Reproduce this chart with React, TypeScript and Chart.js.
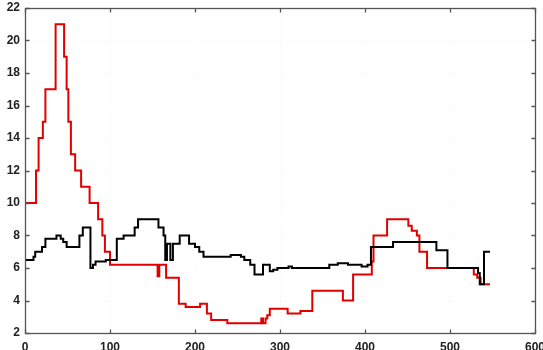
import React, { useEffect, useRef } from "react";
import { Chart, registerables } from "chart.js";

Chart.register(...registerables);

const xTicks = [0, 100, 200, 300, 400, 500, 600];
const yTicks = [2, 4, 6, 8, 10, 12, 14, 16, 18, 20, 22];

const redX = [0, 13, 16, 21, 24, 36, 46, 49, 51, 54, 59, 66, 76, 86, 91, 94, 100, 156, 158, 166, 181, 189, 206, 214, 219, 238, 278, 280, 283, 285, 288, 309, 324, 338, 374, 386, 408, 410, 426, 451, 455, 461, 464, 473, 528, 532, 536, 547];
const redY = [10, 12, 14, 15, 17, 21, 19, 17, 15, 13, 12, 11, 10, 9, 8, 7, 6.2, 5.5, 6.2, 5.4, 3.8, 3.6, 3.8, 3.2, 2.8, 2.6, 2.9, 2.6, 2.9, 3.1, 3.5, 3.2, 3.35, 4.6, 4.0, 5.6, 6.4, 8.0, 9.0, 8.6, 8.3, 8.0, 7.0, 6.0, 5.6, 5.4, 5.0, 5.0];

const blackX = [0, 10, 12, 20, 24, 37, 42, 45, 49, 64, 68, 77, 80, 83, 95, 108, 116, 129, 133, 157, 163, 165, 167, 170, 171, 174, 182, 193, 200, 205, 210, 242, 254, 258, 265, 270, 280, 288, 292, 297, 310, 314, 358, 368, 380, 396, 403, 407, 433, 484, 497, 533, 535, 540, 547];
const blackY = [6.5, 6.7, 7.0, 7.3, 7.8, 8.0, 7.8, 7.6, 7.3, 8.0, 8.5, 6.0, 6.2, 6.4, 6.5, 7.8, 8.0, 8.5, 9.0, 8.5, 8.0, 6.5, 7.5, 7.5, 6.5, 7.5, 8.0, 7.5, 7.3, 7.0, 6.7, 6.8, 6.7, 6.5, 6.2, 5.6, 6.2, 5.8, 5.9, 6.0, 6.1, 6.0, 6.2, 6.3, 6.2, 6.1, 6.2, 7.3, 7.6, 7.1, 6.0, 5.7, 5.0, 7.0, 7.0];

const toPts = (xs: number[], ys: number[]) => xs.map((x, i) => ({ x, y: ys[i] }));

const frame = {
  id: "frame",
  beforeDatasetsDraw(chart: any) {
    const { ctx, chartArea: a, scales } = chart;
    ctx.save();
    ctx.strokeStyle = "rgba(0,0,0,0.045)";
    ctx.lineWidth = 1;
    ctx.setLineDash([1, 3]);
    for (const v of xTicks) {
      const px = Math.round(scales.x.getPixelForValue(v)) + 0.5;
      ctx.beginPath(); ctx.moveTo(px, a.top); ctx.lineTo(px, a.bottom); ctx.stroke();
    }
    for (const v of yTicks) {
      const py = Math.round(scales.y.getPixelForValue(v)) + 0.5;
      ctx.beginPath(); ctx.moveTo(a.left, py); ctx.lineTo(a.right, py); ctx.stroke();
    }
    ctx.restore();
  },
  afterDatasetsDraw(chart: any) {
    const { ctx, chartArea: a, scales } = chart;
    ctx.save();
    ctx.strokeStyle = "#555";
    ctx.lineWidth = 1.3;
    const L = Math.round(a.left) + 0.5, R = Math.round(a.right) + 0.5;
    const T = Math.round(a.top) + 0.5, B = Math.round(a.bottom) + 0.5;
    ctx.strokeRect(L, T, R - L, B - T);
    const tl = 4;
    ctx.beginPath();
    for (const v of xTicks) {
      const px = Math.round(scales.x.getPixelForValue(v)) + 0.5;
      ctx.moveTo(px, B); ctx.lineTo(px, B - tl);
      ctx.moveTo(px, T); ctx.lineTo(px, T + tl);
    }
    for (const v of yTicks) {
      const py = Math.round(scales.y.getPixelForValue(v)) + 0.5;
      ctx.moveTo(L, py); ctx.lineTo(L + tl, py);
      ctx.moveTo(R, py); ctx.lineTo(R - tl, py);
    }
    ctx.stroke();
    ctx.restore();
  },
};

export default function App() {
  const ref = useRef<HTMLCanvasElement | null>(null);
  useEffect(() => {
    if (!ref.current) return;
    const font = { family: "'Liberation Sans', Arial, sans-serif", size: 12, weight: "bold" as const };
    const chart = new Chart(ref.current, {
      type: "line",
      data: {
        datasets: [
          {
            label: "black",
            data: toPts(blackX, blackY),
            borderColor: "#000000",
            borderWidth: 2,
            pointRadius: 0,
            stepped: true,
            order: 0,
          },
          {
            label: "red",
            data: toPts(redX, redY),
            borderColor: "#e00000",
            borderWidth: 2,
            pointRadius: 0,
            stepped: true,
            order: 1,
          },
        ],
      },
      options: {
        animation: false,
        responsive: false,
        maintainAspectRatio: false,
        layout: { padding: { top: 8, right: 8, left: 0, bottom: 0 } },
        plugins: { legend: { display: false }, tooltip: { enabled: false } },
        scales: {
          x: {
            type: "linear",
            min: 0,
            max: 600,
            grid: { display: false, drawTicks: false },
            border: { display: false },
            ticks: { stepSize: 100, padding: 7, color: "#222", font, maxRotation: 0 },
            afterFit: (s: any) => { s.height = 17; s.paddingLeft = 0; s.paddingRight = 0; },
          },
          y: {
            type: "linear",
            min: 2,
            max: 22,
            grid: { display: false, drawTicks: false },
            border: { display: false },
            ticks: { stepSize: 2, padding: 5, color: "#222", font },
            afterFit: (s: any) => { s.width = 25; s.paddingTop = 0; s.paddingBottom = 0; },
          },
        },
      },
      plugins: [frame],
    });
    return () => chart.destroy();
  }, []);
  return (
    <div style={{ position: "fixed", left: 0, top: 0, width: 543, height: 350, background: "#fff" }}>
      <canvas ref={ref} width={543} height={350} style={{ display: "block" }} />
    </div>
  );
}
